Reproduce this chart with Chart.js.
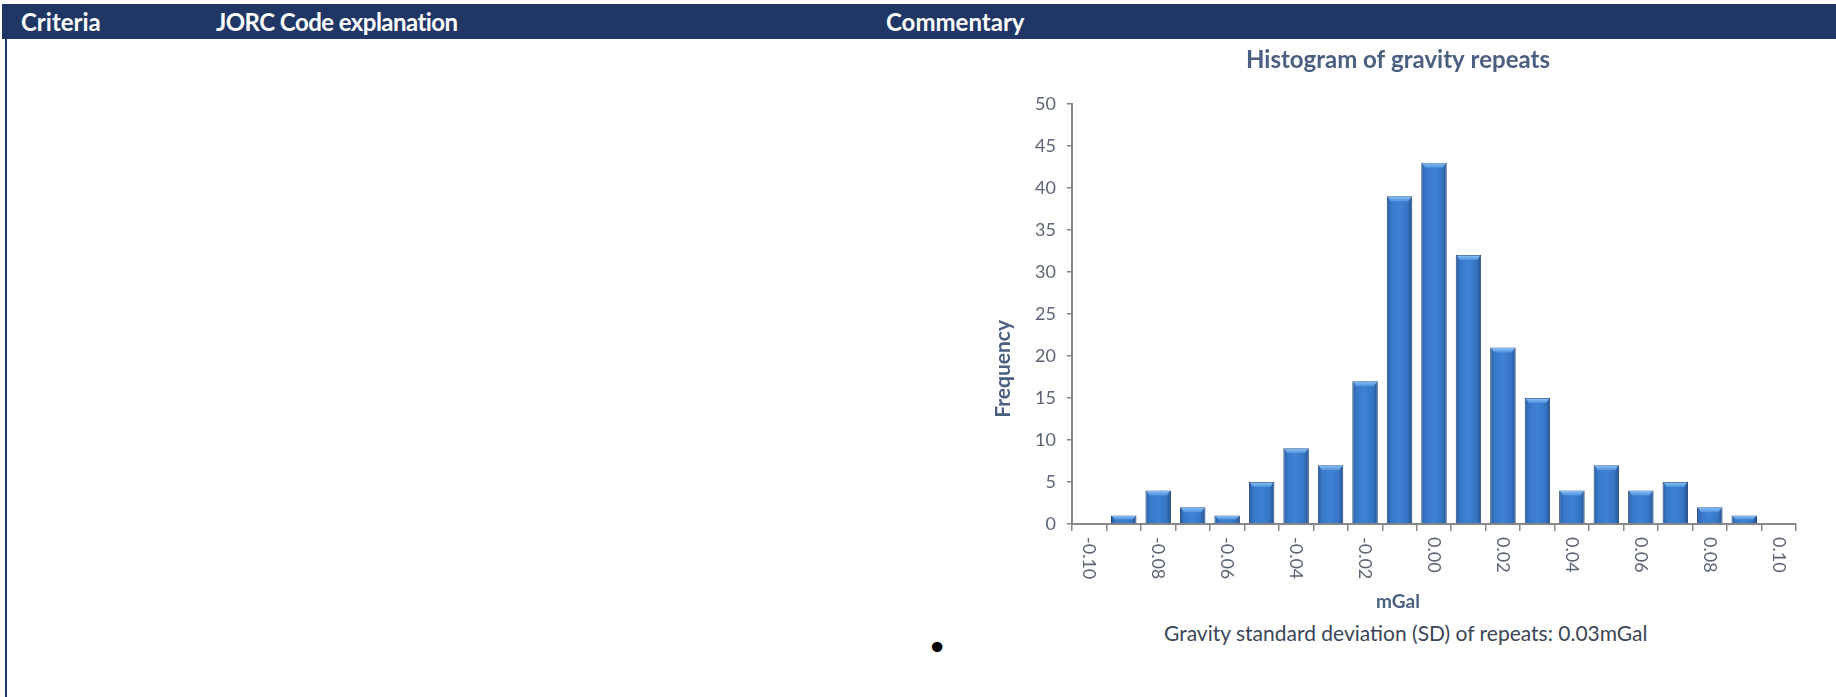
<!DOCTYPE html>
<html>
<head>
<meta charset="utf-8">
<script src="https://cdn.jsdelivr.net/npm/chart.js@4.4.1/dist/chart.umd.min.js"></script>
<style>
  html, body { margin: 0; padding: 0; background: #fff; width: 1836px; height: 697px; overflow: hidden; }
  .hdr { position: absolute; left: 2px; top: 4px; width: 1834px; height: 35px; background: #203766; }
  .hdr span { position: absolute; top: 0; line-height: 35px; font-family: Lato, sans-serif; font-weight: bold; font-size: 24px; color: #fff; white-space: nowrap; }
  .vline { position: absolute; left: 5px; top: 39px; width: 2px; height: 658px; background: #203766; }
  #wrap { position: absolute; left: 960px; top: 40px; width: 876px; height: 576px; }
  .note { position: absolute; left: 1164px; top: 620px; line-height: 26px; font-family: Lato, sans-serif; font-size: 21px; color: #3b4656; white-space: nowrap; }
  .bullet { position: absolute; left: 937px; top: 648px; transform: translate(-50%, -50%); font-family: "DejaVu Sans", sans-serif; font-size: 36px; line-height: 36px; color: #000; }
</style>
</head>
<body>
<div class="hdr">
  <span style="left:19px">Criteria</span>
  <span style="left:214px; letter-spacing:-0.55px">JORC Code explanation</span>
  <span style="left:884px">Commentary</span>
</div>
<div class="vline"></div>
<div id="wrap"><canvas id="c"></canvas></div>
<div class="bullet">•</div>
<div class="note">Gravity standard deviation (SD) of repeats: 0.03mGal</div>
<script>
// ---- data ----
const categories = ['-0.10','-0.09','-0.08','-0.07','-0.06','-0.05','-0.04','-0.03','-0.02','-0.01','0.00','0.01','0.02','0.03','0.04','0.05','0.06','0.07','0.08','0.09','0.10'];
const frequency  = [0, 1, 4, 2, 1, 5, 9, 7, 17, 39, 43, 32, 21, 15, 4, 7, 4, 5, 2, 1, 0];
const tickLabels = ['-0.10','','-0.08','','-0.06','','-0.04','','-0.02','','0.00','','0.02','','0.04','','0.06','','0.08','','0.10'];
const yTicks = [0, 5, 10, 15, 20, 25, 30, 35, 40, 45, 50];
const chartTitle = 'Histogram of gravity repeats';
const xTitle = 'mGal';
const yTitle = 'Frequency';

const titleColor = '#4b5f80';
const tickColor = '#5d6574';
const axisColor = '#878787';
const BAR_PCT = 0.74;

function barFill(ctx) {
  const chart = ctx.chart;
  const xs = chart.scales.x;
  if (!xs || !chart.chartArea) return '#3a7acb';
  const cx = xs.getPixelForValue(ctx.dataIndex);
  const w = (xs.width / categories.length) * BAR_PCT;
  const g = chart.ctx.createLinearGradient(cx - w / 2, 0, cx + w / 2, 0);
  g.addColorStop(0, '#2a5c9f');
  g.addColorStop(0.18, '#3878c8');
  g.addColorStop(0.5, '#3e82d4');
  g.addColorStop(0.82, '#3574c2');
  g.addColorStop(1, '#22508c');
  return g;
}

const bevelPlugin = {
  id: 'bevel',
  afterDatasetsDraw(chart) {
    const meta = chart.getDatasetMeta(0);
    const ctx = chart.ctx;
    meta.data.forEach((el) => {
      const h = el.base - el.y;
      if (h <= 1) return;
      const x0 = el.x - el.width / 2 + 1, x1 = el.x + el.width / 2 - 1;
      const bh = Math.min(5, h / 2);
      const g = ctx.createLinearGradient(0, el.y, 0, el.y + bh);
      g.addColorStop(0, '#8ec3f6');
      g.addColorStop(1, '#4f92de');
      ctx.save();
      ctx.beginPath();
      ctx.moveTo(x0, el.y + 0.5);
      ctx.lineTo(x1, el.y + 0.5);
      ctx.lineTo(x1 - 3, el.y + bh);
      ctx.lineTo(x0 + 3, el.y + bh);
      ctx.closePath();
      ctx.fillStyle = g;
      ctx.fill();
      ctx.restore();
    });
  }
};

const axisTextPlugin = {
  id: 'axisText',
  afterDraw(chart) {
    const ctx = chart.ctx;
    const xs = chart.scales.x;
    const area = chart.chartArea;
    ctx.save();
    // rotated x tick labels (reading top to bottom)
    ctx.font = '18px Lato';
    ctx.fillStyle = tickColor;
    ctx.textAlign = 'left';
    ctx.textBaseline = 'middle';
    tickLabels.forEach((t, i) => {
      if (!t) return;
      const px = xs.getPixelForValue(i);
      ctx.save();
      ctx.translate(px, xs.top + 13);
      ctx.rotate(Math.PI / 2);
      ctx.fillText(t, 0, 0);
      ctx.restore();
    });
    // x title
    ctx.font = 'bold 19px Lato';
    ctx.fillStyle = titleColor;
    ctx.textAlign = 'center';
    ctx.textBaseline = 'middle';
    ctx.fillText(xTitle, chart.width / 2, xs.bottom - 14);
    // y title
    ctx.save();
    ctx.translate(chart.scales.y.left + 43, (area.top + area.bottom) / 2 + 55);
    ctx.rotate(-Math.PI / 2);
    ctx.font = 'bold 21px Lato';
    ctx.fillText(yTitle, 0, 0);
    ctx.restore();
    ctx.restore();
  }
};

new Chart(document.getElementById('c'), {
  type: 'bar',
  data: {
    labels: categories,
    datasets: [{
      data: frequency,
      backgroundColor: barFill,
      borderColor: '#1d4272',
      borderWidth: 1,
      borderSkipped: 'bottom',
      barPercentage: BAR_PCT,
      categoryPercentage: 1.0
    }]
  },
  options: {
    responsive: true,
    maintainAspectRatio: false,
    devicePixelRatio: 1,
    animation: false,
    layout: { padding: 0 },
    plugins: {
      legend: { display: false },
      tooltip: { enabled: false },
      title: {
        display: true,
        text: chartTitle,
        color: titleColor,
        font: { family: 'Lato', weight: 'bold', size: 24, lineHeight: 1.2 },
        padding: { top: 6, bottom: 29 }
      }
    },
    scales: {
      x: {
        grid: { display: true, drawOnChartArea: false, drawTicks: true, tickLength: 7, color: axisColor, lineWidth: 1.5 },
        border: { display: true, color: axisColor, width: 2 },
        ticks: { display: false },
        afterFit: (s) => { s.height = 92; }
      },
      y: {
        min: 0,
        max: 50,
        afterBuildTicks: (s) => { s.ticks = yTicks.map(v => ({ value: v })); },
        grid: { display: true, drawOnChartArea: false, drawTicks: true, tickLength: 5, color: axisColor, lineWidth: 1.5 },
        border: { display: true, color: axisColor, width: 2 },
        ticks: { color: tickColor, padding: 11, font: { family: 'Lato', size: 18 } },
        afterFit: (s) => { s.width = 112; }
      },
      yR: {
        position: 'right',
        display: true,
        grid: { display: false },
        border: { display: false },
        ticks: { display: false },
        afterFit: (s) => { s.width = 40; }
      }
    }
  },
  plugins: [bevelPlugin, axisTextPlugin]
});
</script>
</body>
</html>
